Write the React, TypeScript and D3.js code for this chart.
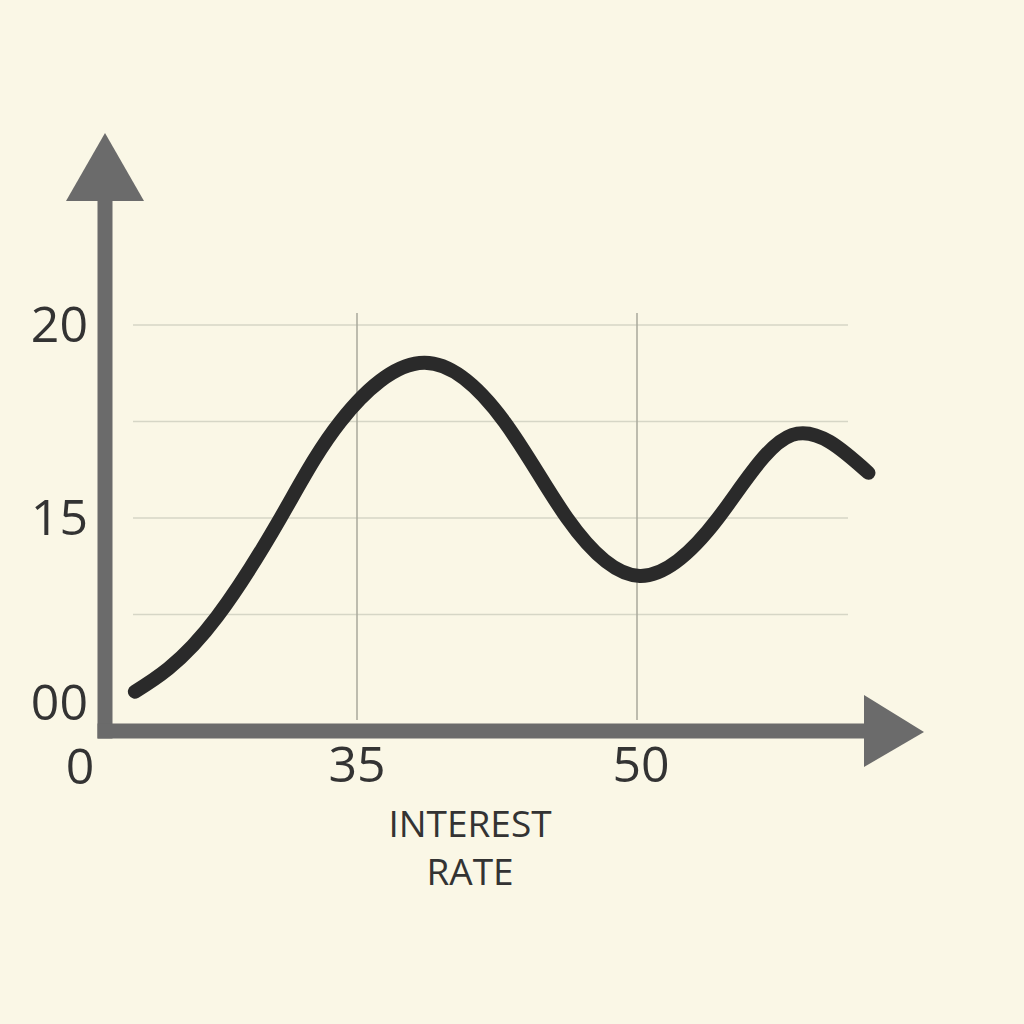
import React from "react";
import * as d3 from "d3";

const curveX = [23.1, 24.9, 27.5, 30.9, 34.1, 38.6, 42.9, 46.25, 50.15, 54.35, 58.3, 62.4];
const curveY = [10.5, 11.1, 12.44, 15.0, 17.49, 19.02, 17.49, 15.0, 13.5, 15.0, 17.15, 16.17];
const xTicks = [35, 50];
const xTickLabels = ["35", "50"];
const xGrid = [35, 50];
const yGrid = [20, 17.5, 15, 12.5];
const yTickValues = [20, 15, 10.2];
const yTickLabels = ["20", "15", "00"];
const originLabel = "0";
const axisTitle = ["INTEREST", "RATE"];

export default function App() {
  const W = 1024, H = 1024;
  const x = d3.scaleLinear().domain([35, 50]).range([357, 637]);
  const y = d3.scaleLinear().domain([15, 20]).range([518, 325]);
  const axisX = 105, axisY = 731;
  const pts: [number, number][] = curveX.map((v, i) => [x(v), y(curveY[i])]);
  const line = d3.line().curve(d3.curveNatural)(pts) || "";
  const axisColor = "#6b6b6b";
  const font = "'Open Sans', 'Noto Sans', sans-serif";
  return (
    <svg width={W} height={H} style={{ position: "absolute", left: 0, top: 0, display: "block" }}>
      <rect x={0} y={0} width={W} height={H} fill="#faf7e6" />
      {yGrid.map((g) => (
        <line key={"h" + g} x1={133} x2={848} y1={y(g)} y2={y(g)} stroke="#d6d6c6" strokeWidth={1.5} />
      ))}
      {xGrid.map((g) => (
        <line key={"v" + g} x1={x(g)} x2={x(g)} y1={313} y2={720} stroke="#a8a89b" strokeWidth={1.5} />
      ))}
      <line x1={axisX} x2={axisX} y1={axisY + 7.5} y2={198} stroke={axisColor} strokeWidth={15} />
      <polygon points={`66,201 144,201 105,133`} fill={axisColor} />
      <line x1={axisX - 7.5} x2={866} y1={axisY} y2={axisY} stroke={axisColor} strokeWidth={15} />
      <polygon points={`864,695 864,767 924,732`} fill={axisColor} />
      <path d={line} fill="none" stroke="#2a2a2a" strokeWidth={14} strokeLinecap="round" strokeLinejoin="round" />
      {yTickValues.map((v, i) => (
        <text key={"yt" + i} x={88} y={y(v) + 17} textAnchor="end" fontFamily={font} fontSize={50} fill="#333">
          {yTickLabels[i]}
        </text>
      ))}
      <text x={80} y={784} textAnchor="middle" fontFamily={font} fontSize={50} fill="#333">{originLabel}</text>
      {xTicks.map((v, i) => (
        <text key={"xt" + i} x={x(v) + (i === 1 ? 4 : 0)} y={782} textAnchor="middle" fontFamily={font} fontSize={50} fill="#333">
          {xTickLabels[i]}
        </text>
      ))}
      {axisTitle.map((t, i) => (
        <text key={"at" + i} x={470} y={837 + i * 48} textAnchor="middle" fontFamily={font} fontSize={37} fill="#333">
          {t}
        </text>
      ))}
    </svg>
  );
}
